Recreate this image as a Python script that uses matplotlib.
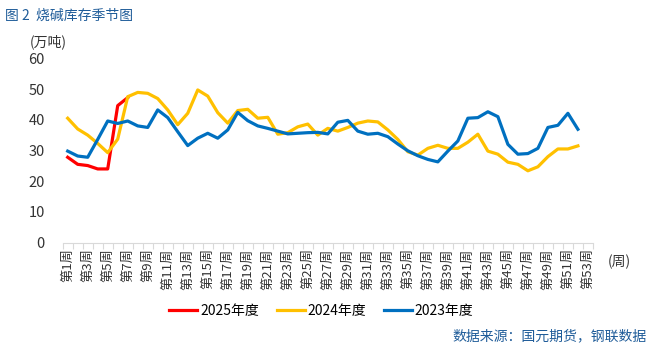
import numpy as np
import matplotlib
matplotlib.use("Agg")
import matplotlib.pyplot as plt

plt.rcParams['font.family'] = ['Noto Sans CJK SC', 'DejaVu Sans']

# ---------------- data ----------------
weeks = ["第%d周" % i for i in range(1, 54)]

inv_2025 = [27.8, 25.5, 25.1, 24.0, 24.0, 44.6, 47.2]

inv_2024 = [40.5, 37.0, 35.0, 32.3, 29.3, 33.7, 47.5, 48.9, 48.6, 46.9,
            43.2, 38.4, 42.1, 49.7, 47.7, 42.3, 38.9, 43.0, 43.4, 40.5,
            40.8, 35.3, 35.8, 37.7, 38.6, 35.0, 37.2, 36.3, 37.5, 38.9,
            39.6, 39.3, 36.7, 33.6, 29.6, 28.5, 30.7, 31.7, 30.7, 30.7,
            32.7, 35.3, 29.8, 28.8, 26.2, 25.5, 23.4, 24.7, 28.0, 30.5,
            30.5, 31.5]

inv_2023 = [29.8, 28.2, 27.8, 33.6, 39.6, 38.8, 39.6, 38.0, 37.5, 43.2,
            40.7, 36.1, 31.6, 34.0, 35.6, 34.0, 36.7, 42.4, 39.7, 38.0,
            37.2, 36.3, 35.4, 35.6, 35.8, 35.9, 35.4, 39.2, 39.8, 36.3,
            35.3, 35.6, 34.5, 32.1, 29.9, 28.3, 27.1, 26.3, 29.8, 33.1,
            40.5, 40.7, 42.6, 41.0, 32.0, 28.8, 29.0, 30.7, 37.5, 38.2,
            42.1, 36.9]

series = [("2025年度", inv_2025, "#FF0000"),
          ("2024年度", inv_2024, "#FFC000"),
          ("2023年度", inv_2023, "#0070C0")]

# ---------------- figure ----------------
fig = plt.figure(figsize=(6.53, 3.52), dpi=100)
ax = fig.add_axes([0.096, 0.3105, 0.812, 0.5239])

for name, vals, col in series:
    ax.plot(np.arange(len(vals)), vals, color=col, lw=2.3, label=name,
            solid_joinstyle="round")

ax.set_xlim(-0.5, len(weeks) - 0.5)
ax.set_ylim(0, 60)
ax.set_yticks(range(0, 61, 10))

ax.set_xticks(np.arange(0, len(weeks), 2))
ax.set_xticklabels(weeks[::2], rotation=90, fontsize=9.5, color="#333333")
ax.set_xticks(np.arange(-0.5, len(weeks), 1), minor=True)
ax.tick_params(axis="x", which="major", length=0, pad=4)
ax.tick_params(axis="x", which="minor", length=4, color="#d9d9d9", width=0.8)
ax.tick_params(axis="y", length=0, pad=13, labelsize=10.5, labelcolor="#333333")

for s in ["top", "right", "left"]:
    ax.spines[s].set_visible(False)
ax.spines["bottom"].set_color("#d9d9d9")
ax.spines["bottom"].set_linewidth(0.8)

# texts
fig.text(0.008, 0.975, "图 2  烧碱库存季节图", fontsize=10, color="#1F5C99",
         va="top", ha="left")
fig.text(0.045, 0.88, "(万吨)", fontsize=10, color="#333333", va="center", ha="left")
fig.text(0.930, 0.255, "(周)", fontsize=10, color="#333333", va="center", ha="left")
fig.text(0.99, 0.025, "数据来源：国元期货，钢联数据", fontsize=10, color="#1F5C99",
         va="bottom", ha="right")

fig.legend(loc="center", bbox_to_anchor=(0.492, 0.116), ncol=3, frameon=False,
           fontsize=10, handlelength=2.0, handletextpad=0.2, columnspacing=1.3)

fig.savefig("out.png", dpi=100)
